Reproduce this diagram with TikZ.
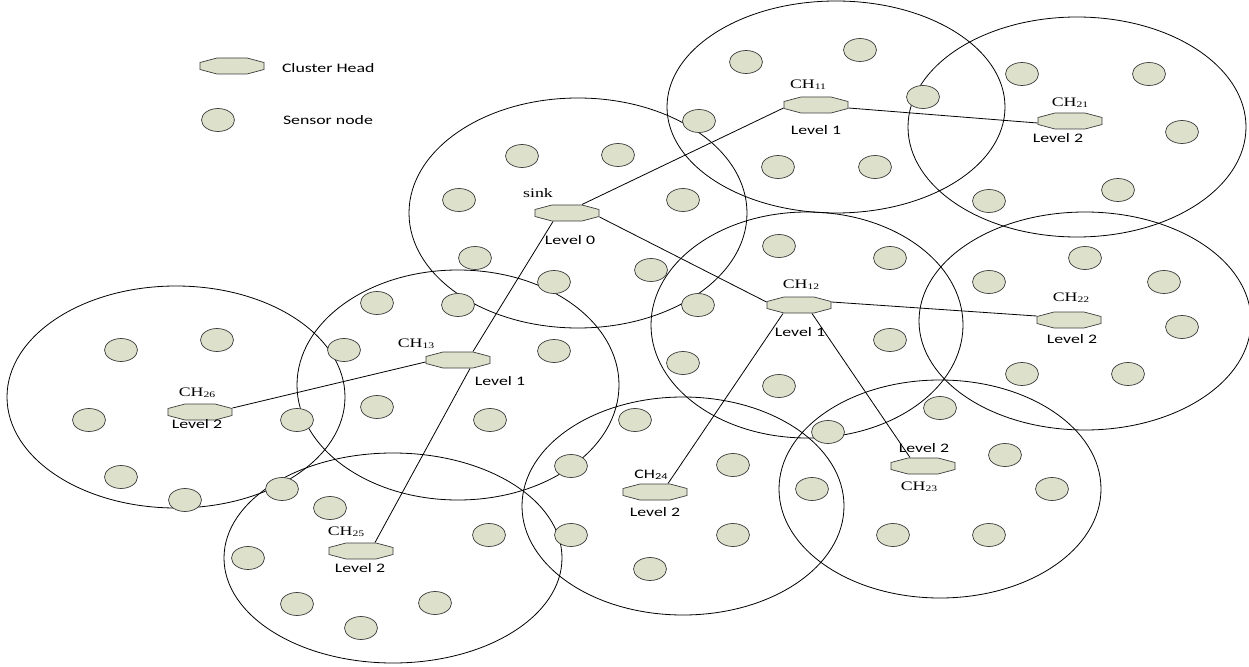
\documentclass[tikz,border=0pt]{standalone}
\usepackage{fontspec}
\setmainfont{Liberation Serif}
\newfontfamily\calfont{Carlito}
\usepackage{graphicx}
\usetikzlibrary{calc}
\definecolor{sensfill}{RGB}{221,224,203}
\definecolor{chline}{RGB}{60,60,60}
\newcommand\sx[1]{\scalebox{1.37}[1]{#1}}
\newcommand\serifsz{\fontsize{13bp}{15bp}\selectfont}
\newcommand\calsz{\calfont\fontsize{13bp}{15bp}\selectfont}
\newcommand\chlab[1]{\sx{\serifsz CH\raisebox{-1.2bp}{\fontsize{8.5bp}{9bp}\selectfont #1}}}
\newcommand\chlabsans[1]{\sx{\calsz CH\raisebox{-1.2bp}{\fontsize{9bp}{9bp}\selectfont #1}}}
\newcommand\lvl[1]{\sx{\calsz Level #1}}
\begin{document}
\begin{tikzpicture}[x=1bp,y=-1bp,
  chead/.style={minimum width=65bp,minimum height=17bp,inner sep=0pt,outer sep=0pt,
    path picture={\draw[draw=chline,fill=sensfill,line width=0.7bp,shift={(path picture bounding box.center)}]
      (-32,-3.5)--(-15,-8)--(15,-8)--(32,-3.5)--(32,3.5)--(15,8)--(-15,8)--(-32,3.5)--cycle;}},
  lab/.style={inner sep=0pt,outer sep=0pt},
  zone/.style={line width=0.8bp,draw=black},
  link/.style={line width=0.8bp,draw=black},
  sens/.style={draw=chline,fill=sensfill,line width=0.7bp}]
\useasboundingbox (0,0) rectangle (1249,667);
\fill[white] (0,0) rectangle (1249,667);
% cluster ranges
\draw[zone] (578,213) ellipse [x radius=169, y radius=115];
\draw[zone] (836,107) ellipse [x radius=169, y radius=106];
\draw[zone] (1077,127) ellipse [x radius=169, y radius=110];
\draw[zone] (807,325) ellipse [x radius=156, y radius=113];
\draw[zone] (1085,321) ellipse [x radius=166, y radius=109];
\draw[zone] (458,385) ellipse [x radius=161, y radius=115];
\draw[zone] (176,397) ellipse [x radius=169, y radius=111];
\draw[zone] (393,558) ellipse [x radius=169, y radius=105];
\draw[zone] (683,506) ellipse [x radius=161, y radius=109];
\draw[zone] (940,489) ellipse [x radius=161, y radius=109];
% sensor nodes
\foreach \a/\b in {522/156, 618/155, 459/200, 683/200, 475/258, 651/270, 554/282, 458/305, 698/305,
  746/62, 860/50, 923/97, 699/121, 778/167, 875/167,
  1022/74, 1149/74, 1182/132, 1118/190, 989/201,
  779/246, 890/258, 890/340, 683/363, 779/386, 828/432,
  989/282, 1085/258, 1164/282, 1182/327, 1022/374, 1128/374, 940/408,
  377/303, 344/350, 554/351, 377/407, 490/420, 297/420,
  121/350, 217/340, 89/420, 121/477, 185/500,
  282/489, 330/508, 489/535, 248/558, 297/604, 361/628, 435/603,
  635/420, 571/466, 733/465, 571/535, 733/535, 650/569,
  1005/455, 812/489, 1052/489, 893/535, 989/535,
  218/120}
  \draw[sens] (\a,\b) ellipse [x radius=16.5, y radius=11.5];
% cluster heads
\node[chead] (lgch) at (232,66) {};
\node[chead] (sink) at (567,213) {};
\node[chead] (ch11) at (816,105) {};
\node[chead] (ch21) at (1070,121) {};
\node[chead] (ch12) at (799,305) {};
\node[chead] (ch22) at (1069,320) {};
\node[chead] (ch13) at (458,360) {};
\node[chead] (ch26) at (200,412) {};
\node[chead] (ch25) at (361,551) {};
\node[chead] (ch24) at (655,492) {};
\node[chead] (ch23) at (923,466) {};
% links
\draw[link] ($(sink.north)+(15,0)$) -- ($(ch11.west)+(0,3)$);
\draw[link] ($(ch11.east)+(0,3)$) -- ($(ch21.west)+(0,2)$);
\draw[link] ($(sink.east)+(0,4)$) -- ($(ch12.west)+(0,-3)$);
\draw[link] ($(ch12.east)+(0,-3)$) -- ($(ch22.west)+(0,-4)$);
\draw[link] ($(sink.south)+(-14,0)$) -- ($(ch13.north)+(15,0)$);
\draw[link] ($(ch13.south)+(12,0)$) -- ($(ch25.north)+(14,0)$);
\draw[link] ($(ch13.west)+(0,2)$) -- ($(ch26.east)+(0,-4)$);
\draw[link] ($(ch12.south)+(-16,0)$) -- ($(ch24.north)+(13,0)$);
\draw[link] ($(ch12.south)+(13,0)$) -- ($(ch23.north)+(-13,0)$);
% labels
\node[lab,anchor=west] (tlgch) at (282,68) {\sx{\calsz Cluster Head}};
\node[lab,anchor=west] (tlgsn) at (283,120) {\sx{\calsz Sensor node}};
\node[lab] (tsink) at (538,193) {\sx{\serifsz sink}};
\node[lab] (lsink) at (570,240) {\lvl{0}};
\node[lab] (t11) at (808,85) {\chlab{11}};
\node[lab] (l11) at (816,130) {\lvl{1}};
\node[lab] (t21) at (1070,103) {\chlab{21}};
\node[lab] (l21) at (1058,138) {\lvl{2}};
\node[lab] (t12) at (801,285) {\chlab{12}};
\node[lab] (l12) at (800,332) {\lvl{1}};
\node[lab] (t22) at (1071,298) {\chlab{22}};
\node[lab] (l22) at (1072,339) {\lvl{2}};
\node[lab] (t13) at (416,344) {\chlab{13}};
\node[lab] (l13) at (500,381) {\lvl{1}};
\node[lab] (t26) at (197,393) {\chlab{26}};
\node[lab] (l26) at (197,424) {\lvl{2}};
\node[lab] (t25) at (346,532) {\chlab{25}};
\node[lab] (l25) at (360,568) {\lvl{2}};
\node[lab] (t24) at (651,475) {\chlabsans{24}};
\node[lab] (l24) at (655,512) {\lvl{2}};
\node[lab] (t23) at (919,487) {\chlab{23}};
\node[lab] (l23) at (924,448) {\lvl{2}};
\end{tikzpicture}
\end{document}
